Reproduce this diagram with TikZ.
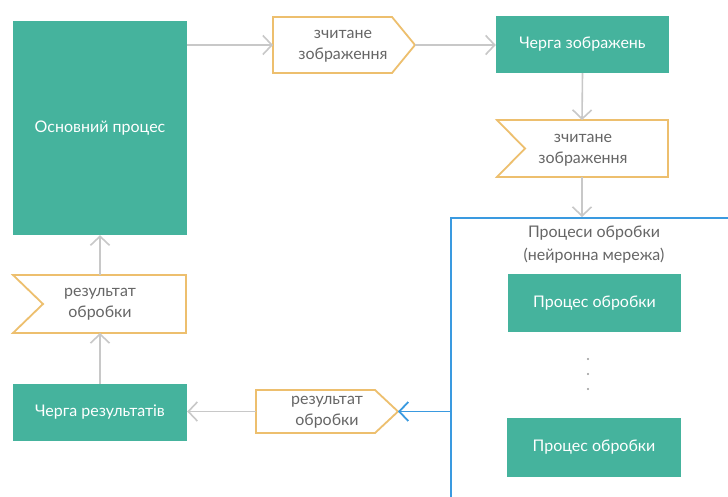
\documentclass[tikz,border=0pt]{standalone}
\usepackage{fontspec}
\setmainfont{Lato}
\usetikzlibrary{arrows.meta}
\definecolor{tealc}{HTML}{45B39D}
\definecolor{orangec}{HTML}{EDBF6E}
\definecolor{arrgray}{HTML}{C8C8C8}
\definecolor{bluec}{HTML}{3A9AE0}
\definecolor{txtgray}{HTML}{666666}
\begin{document}
\begin{tikzpicture}[x=1pt,y=-1pt,
  box/.style={fill=tealc, text=white, inner sep=0pt, font=\fontsize{16}{19}\selectfont},
  tagline/.style={draw=orangec, line width=1.8pt, line join=miter, fill=white},
  tagtext/.style={text=txtgray, align=center, inner sep=0pt, font=\fontsize{16}{21}\selectfont},
  arr/.style={draw=arrgray, line width=1.6pt, -{Straight Barb[length=9pt,width=19pt,line width=1.6pt]}},
  arrb/.style={draw=bluec, line width=1.8pt, -{Straight Barb[length=9pt,width=19pt,line width=1.8pt]}},
  dotn/.style={circle, fill=black!40, inner sep=0pt, minimum size=2.2pt}
]
\useasboundingbox (0,0) rectangle (728,497);
\fill[white] (0,0) rectangle (728,497);
\clip (0,0) rectangle (728,497);

% container
\node[draw=bluec, line width=2pt, inner sep=0pt, minimum width=400pt, minimum height=400pt, anchor=north west] (cont) at (450,217) {};
\node[tagtext, font=\fontsize{16}{23}\selectfont] (hdr) at (594,245) {Процеси обробки\\(нейронна мережа)};

% teal boxes
\node[box, minimum width=174pt, minimum height=214pt] (main) at (100,128) {Основний процес};
\node[box, minimum width=173pt, minimum height=57pt] (q1) at (582.5,44.5) {Черга зображень};
\node[box, minimum width=174pt, minimum height=57pt] (qr) at (100,412.5) {Черга результатів};
\node[box, minimum width=173pt, minimum height=58pt] (p1) at (594.5,303) {Процес обробки};
\node[box, minimum width=174pt, minimum height=59pt] (p2) at (594,447.5) {Процес обробки};

% dots
\node[dotn] (d1) at (588,359) {};
\node[dotn] (d2) at (588,374) {};
\node[dotn] (d3) at (588,389) {};

% tags
\path[tagline] (273,17) -- (392,17) -- (415,45) -- (392,73) -- (273,73) -- cycle;
\node[tagtext] (t1) at (343,46) {зчитане\\зображення};
\coordinate (t1w) at (273,45);
\coordinate (t1tip) at (415,45);

\path[tagline] (497,120) -- (668,120) -- (668,177) -- (497,177) -- (525,148.5) -- cycle;
\node[tagtext] (t2) at (583,150) {зчитане\\зображення};
\coordinate (t2n) at (582,120);
\coordinate (t2s) at (582,177);

\path[tagline] (256,390) -- (375,390) -- (398,411.5) -- (375,433) -- (256,433) -- cycle;
\node[tagtext] (t3) at (327,412) {результат\\обробки};
\coordinate (t3w) at (256,411.5);
\coordinate (t3tip) at (398,411.5);

\path[tagline] (13,275) -- (186,275) -- (186,333) -- (13,333) -- (43,304) -- cycle;
\node[tagtext] (t4) at (100,304) {результат\\обробки};
\coordinate (t4n) at (100,275);
\coordinate (t4s) at (100,333);

% connectors
\draw[arr] (main.east |- t1w) -- (t1w);
\draw[arr] (t1tip) -- (q1.west |- t1tip);
\draw[arr] (q1.south) -- (t2n);
\draw[arr] (t2s) -- (t2s |- cont.north);
\draw[arrb] (cont.west |- t3tip) -- (t3tip);
\draw[arr] (t3w) -- (qr.east |- t3w);
\draw[arr] (qr.north) -- (t4s);
\draw[arr] (t4n) -- (main.south);
\end{tikzpicture}
\end{document}
